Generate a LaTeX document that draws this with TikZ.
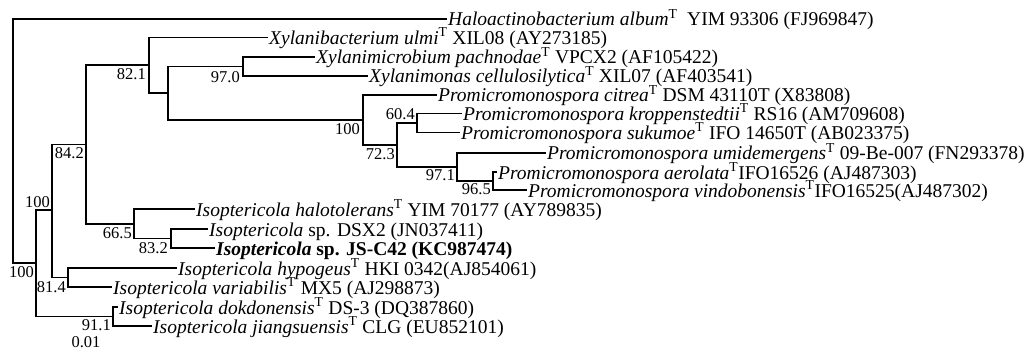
\documentclass[tikz,border=0pt]{standalone}
\usepackage{fontspec}
\setmainfont{Liberation Serif}
\newcommand{\supT}{\textsuperscript{T}}
\tikzset{
  branch/.style={line width=1.8pt},
  taxon/.style={anchor=west, inner sep=1pt, font=\fontsize{19.5}{19.5}\selectfont, text height=14pt, text depth=0pt},
  boot/.style={inner sep=1pt, font=\fontsize{16.5}{16.5}\selectfont},
}
\begin{document}
\begin{tikzpicture}[x=1pt, y=-1pt]
    \useasboundingbox (0,0) rectangle (1034,350);

    % Hojas
    \node[taxon] (halo)  at (447,19)   {\textit{Haloactinobacterium album}\supT\ \ YIM 93306 (FJ969847)};
    \node[taxon] (xylb)  at (268,37.5) {\textit{Xylanibacterium ulmi}\supT\ XIL08 (AY273185)};
    \node[taxon] (xylm)  at (315,57)   {\textit{Xylanimicrobium pachnodae}\supT\ VPCX2 (AF105422)};
    \node[taxon] (xyln)  at (368,76)   {\textit{Xylanimonas cellulosilytica}\supT\ XIL07 (AF403541)};
    \node[taxon] (citr)  at (437,95)   {\textit{Promicromonospora citrea}\supT\ DSM 43110T (X83808)};
    \node[taxon] (krop)  at (462,113.5){\textit{Promicromonospora kroppenstedtii}\supT\ RS16 (AM709608)};
    \node[taxon] (suku)  at (460,132.5){\textit{Promicromonospora sukumoe}\supT\ IFO 14650T (AB023375)};
    \node[taxon] (umid)  at (546,153)  {\textit{Promicromonospora umidemergens}\supT\ 09-Be-007 (FN293378)};
    \node[taxon] (aero)  at (497,172)  {\textit{Promicromonospora aerolata}\supT IFO16526 (AJ487303)};
    \node[taxon] (vind)  at (527,190)  {\textit{Promicromonospora vindobonensis}\supT IFO16525(AJ487302)};
    \node[taxon] (halt)  at (195,209)  {\textit{Isoptericola halotolerans}\supT\ YIM 70177 (AY789835)};
    \node[taxon] (dsx)   at (208,229)  {\textit{Isoptericola} sp. DSX2 (JN037411)};
    \node[taxon] (jsc)   at (215,248)  {\textbf{\textit{Isoptericola} sp. JS-C42 (KC987474)}};
    \node[taxon] (hypo)  at (177,268)  {\textit{Isoptericola hypogeus}\supT\ HKI 0342(AJ854061)};
    \node[taxon] (vari)  at (112,287)  {\textit{Isoptericola variabilis}\supT\ MX5 (AJ298873)};
    \node[taxon] (dokd)  at (118,307)  {\textit{Isoptericola dokdonensis}\supT\ DS-3 (DQ387860)};
    \node[taxon] (jian)  at (152,326)  {\textit{Isoptericola jiangsuensis}\supT\ CLG (EU852101)};

    % Nodos internos
    \coordinate (nRoot) at (13,140);
    \coordinate (nA)   at (36,263);
    \coordinate (nB)   at (52,210);
    \coordinate (nC)   at (86,144.5);
    \coordinate (nD)   at (149,65.3);
    \coordinate (nE)   at (168,93.3);
    \coordinate (nXyl) at (243,66.5);
    \coordinate (nF)   at (363,120);
    \coordinate (nG)   at (397,145);
    \coordinate (nK)   at (417,123);
    \coordinate (nH)   at (457,167);
    \coordinate (nM)   at (493,181);
    \coordinate (nIso) at (134,223.8);
    \coordinate (nDs)  at (171,238.5);
    \coordinate (nHyp) at (68,277.5);
    \coordinate (nDok) at (113,316.5);

    % Ramas
    \draw[branch] (nRoot) |- (halo.west);
    \draw[branch] (nRoot) |- (nA);
    \draw[branch] (nA) |- (nB);
    \draw[branch] (nA) |- (nDok);
    \draw[branch] (nB) |- (nC);
    \draw[branch] (nB) |- (nHyp);
    \draw[branch] (nC) |- (nD);
    \draw[branch] (nC) |- (nIso);
    \draw[branch] (nD) |- (xylb.west);
    \draw[branch] (nD) |- (nE);
    \draw[branch] (nE) |- (nXyl);
    \draw[branch] (nE) |- (nF);
    \draw[branch] (nXyl) |- (xylm.west);
    \draw[branch] (nXyl) |- (xyln.west);
    \draw[branch] (nF) |- (citr.west);
    \draw[branch] (nF) |- (nG);
    \draw[branch] (nG) |- (nK);
    \draw[branch] (nG) |- (nH);
    \draw[branch] (nK) |- (krop.west);
    \draw[branch] (nK) |- (suku.west);
    \draw[branch] (nH) |- (umid.west);
    \draw[branch] (nH) |- (nM);
    \draw[branch] (nM) |- (aero.west);
    \draw[branch] (nM) |- (vind.west);
    \draw[branch] (nIso) |- (halt.west);
    \draw[branch] (nIso) |- (nDs);
    \draw[branch] (nDs) |- (dsx.west);
    \draw[branch] (nDs) |- (jsc.west);
    \draw[branch] (nHyp) |- (hypo.west);
    \draw[branch] (nHyp) |- (vari.west);
    \draw[branch] (nDok) |- (dokd.west);
    \draw[branch] (nDok) |- (jian.west);

    % Valores de bootstrap
    \node[boot, anchor=north east] (bA)   at ([shift={(-1,2)}]nA)   {100};
    \node[boot, anchor=south east] (bB)   at ([shift={(-1,-1)}]nB)  {100};
    \node[boot, anchor=north east] (bC)   at ([shift={(-1,2)}]nC)   {84.2};
    \node[boot, anchor=north east] (bD)   at ([shift={(-2,2)}]nD)   {82.1};
    \node[boot, anchor=north east] (bXyl) at ([shift={(-2,4)}]nXyl) {97.0};
    \node[boot, anchor=north east] (bF)   at ([shift={(-2,2)}]nF)   {100};
    \node[boot, anchor=north east] (bG)   at ([shift={(-1,2)}]nG)   {72.3};
    \node[boot, anchor=south east] (bK)   at ([shift={(-1,-2)}]nK)  {60.4};
    \node[boot, anchor=north east] (bH)   at ([shift={(-1,1)}]nH)   {97.1};
    \node[boot, anchor=north east] (bM)   at ([shift={(-1,1)}]nM)   {96.5};
    \node[boot, anchor=north east] (bIso) at ([shift={(-1,3)}]nIso) {66.5};
    \node[boot, anchor=north east] (bDs)  at ([shift={(-2,3)}]nDs)  {83.2};
    \node[boot, anchor=north east] (bHyp) at ([shift={(-1,3)}]nHyp) {81.4};
    \node[boot, anchor=north east] (bDok) at ([shift={(-1,2)}]nDok) {91.1};
    \node[boot] (scale) at (86,342) {0.01};
\end{tikzpicture}
\end{document}
